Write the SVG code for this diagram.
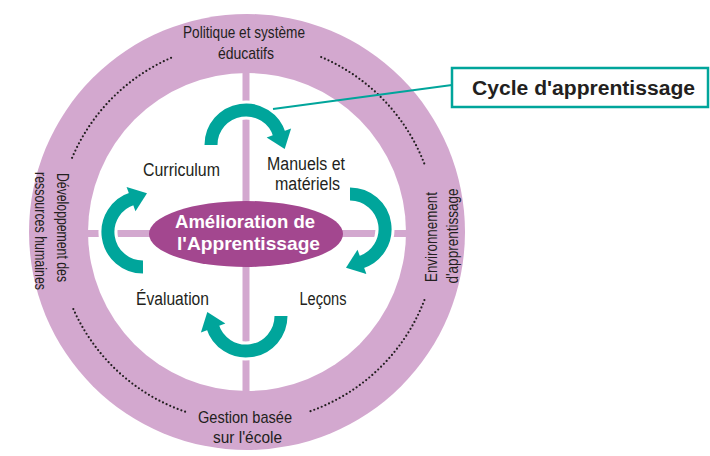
<svg xmlns="http://www.w3.org/2000/svg" xmlns:xlink="http://www.w3.org/1999/xlink" width="710" height="456" viewBox="0 0 710 456">
<style>
.lbl{font-family:"Liberation Sans",Arial,sans-serif;fill:#231f20;text-anchor:middle}
.ring{font-size:17px}
.inner{font-size:18px}
.ctr{font-family:"Liberation Sans",Arial,sans-serif;font-weight:bold;font-size:19px;fill:#ffffff;text-anchor:middle}
.dots{fill:none;stroke:#231f20;stroke-width:2.2;stroke-linecap:round;stroke-dasharray:0 4}
.cross{stroke:#d3a8cf;stroke-width:7}
</style>
<defs>
<g id="arrow">
<path d="M -35 0 A 35 35 0 0 1 32.89 -11.97" fill="none" stroke="#ffffff" stroke-width="19"/>
<polygon points="45.11,-16.42 20.67,-7.52 38.7,4.01" fill="#ffffff" stroke="#ffffff" stroke-width="6" stroke-linejoin="round"/>
<path d="M -35 0 A 35 35 0 0 1 33.5 -10.2" fill="none" stroke="#00a59b" stroke-width="13"/>
<polygon points="45.11,-16.42 20.67,-7.52 38.7,4.01" fill="#00a59b"/>
</g>
</defs>
<rect width="710" height="456" fill="#ffffff"/>
<g id="ring">
<circle cx="247" cy="232" r="218" fill="#d3a8cf"/>
<circle cx="247" cy="232" r="159" fill="#ffffff"/>
<line class="cross" x1="88" y1="233.5" x2="406" y2="233.5"/>
<line class="cross" x1="246" y1="73" x2="246" y2="391"/>
<path class="dots" d="M 321.2 57.1 A 190 190 0 0 1 424.4 163.9"/>
<path class="dots" d="M 424.4 300.1 A 190 190 0 0 1 308.9 411.7"/>
<path class="dots" d="M 185.1 411.7 A 190 190 0 0 1 72.1 306.2"/>
<path class="dots" d="M 72.1 157.8 A 190 190 0 0 1 172.8 57.1"/>
</g>
<g id="node-politique">
<text class="lbl ring" x="244" y="38" textLength="122" lengthAdjust="spacingAndGlyphs">Politique et système</text>
<text class="lbl ring" x="246" y="59" textLength="56" lengthAdjust="spacingAndGlyphs">éducatifs</text>
</g>
<g id="node-gestion">
<text class="lbl ring" x="245" y="423" textLength="94" lengthAdjust="spacingAndGlyphs">Gestion basée</text>
<text class="lbl ring" x="247.5" y="443" textLength="69" lengthAdjust="spacingAndGlyphs">sur l'école</text>
</g>
<g id="node-developpement">
<text class="lbl ring" transform="translate(57,227.5) rotate(90)" textLength="109" lengthAdjust="spacingAndGlyphs">Développement des</text>
<text class="lbl ring" transform="translate(35,231) rotate(90)" textLength="118" lengthAdjust="spacingAndGlyphs">ressources humaines</text>
</g>
<g id="node-environnement">
<text class="lbl ring" transform="translate(437,237) rotate(-90)" textLength="90" lengthAdjust="spacingAndGlyphs">Environnement</text>
<text class="lbl ring" transform="translate(458,236) rotate(-90)" textLength="95" lengthAdjust="spacingAndGlyphs">d'apprentissage</text>
</g>
<g id="connectors">
<use xlink:href="#arrow" href="#arrow" transform="translate(246,145)"/>
<use xlink:href="#arrow" href="#arrow" transform="translate(350,229) rotate(90)"/>
<use xlink:href="#arrow" href="#arrow" transform="translate(246,316) rotate(180)"/>
<use xlink:href="#arrow" href="#arrow" transform="translate(143,232) rotate(270)"/>
<line x1="273" y1="109" x2="452" y2="85" stroke="#00a59b" stroke-width="2"/>
</g>
<g id="node-center">
<ellipse cx="246" cy="234" rx="97" ry="33" fill="#a3478f"/>
<text class="ctr" x="245" y="228" textLength="140" lengthAdjust="spacingAndGlyphs">Amélioration de</text>
<text class="ctr" x="248.5" y="250" textLength="143" lengthAdjust="spacingAndGlyphs">l'Apprentissage</text>
</g>
<g id="node-curriculum">
<text class="lbl inner" x="181.5" y="176" textLength="77" lengthAdjust="spacingAndGlyphs">Curriculum</text>
</g>
<g id="node-manuels">
<text class="lbl inner" x="306" y="170" textLength="78" lengthAdjust="spacingAndGlyphs">Manuels et</text>
<text class="lbl inner" x="307.5" y="190" textLength="65" lengthAdjust="spacingAndGlyphs">matériels</text>
</g>
<g id="node-lecons">
<text class="lbl inner" x="323" y="305" textLength="47" lengthAdjust="spacingAndGlyphs">Leçons</text>
</g>
<g id="node-evaluation">
<text class="lbl inner" x="172.5" y="305" textLength="73" lengthAdjust="spacingAndGlyphs">Évaluation</text>
</g>
<g id="node-cycle">
<rect x="452" y="68" width="256" height="39" fill="#ffffff" stroke="#00a59b" stroke-width="2.5"/>
<text class="lbl" x="583.5" y="95" font-size="20" font-weight="bold" textLength="223" lengthAdjust="spacingAndGlyphs">Cycle d'apprentissage</text>
</g>
</svg>
